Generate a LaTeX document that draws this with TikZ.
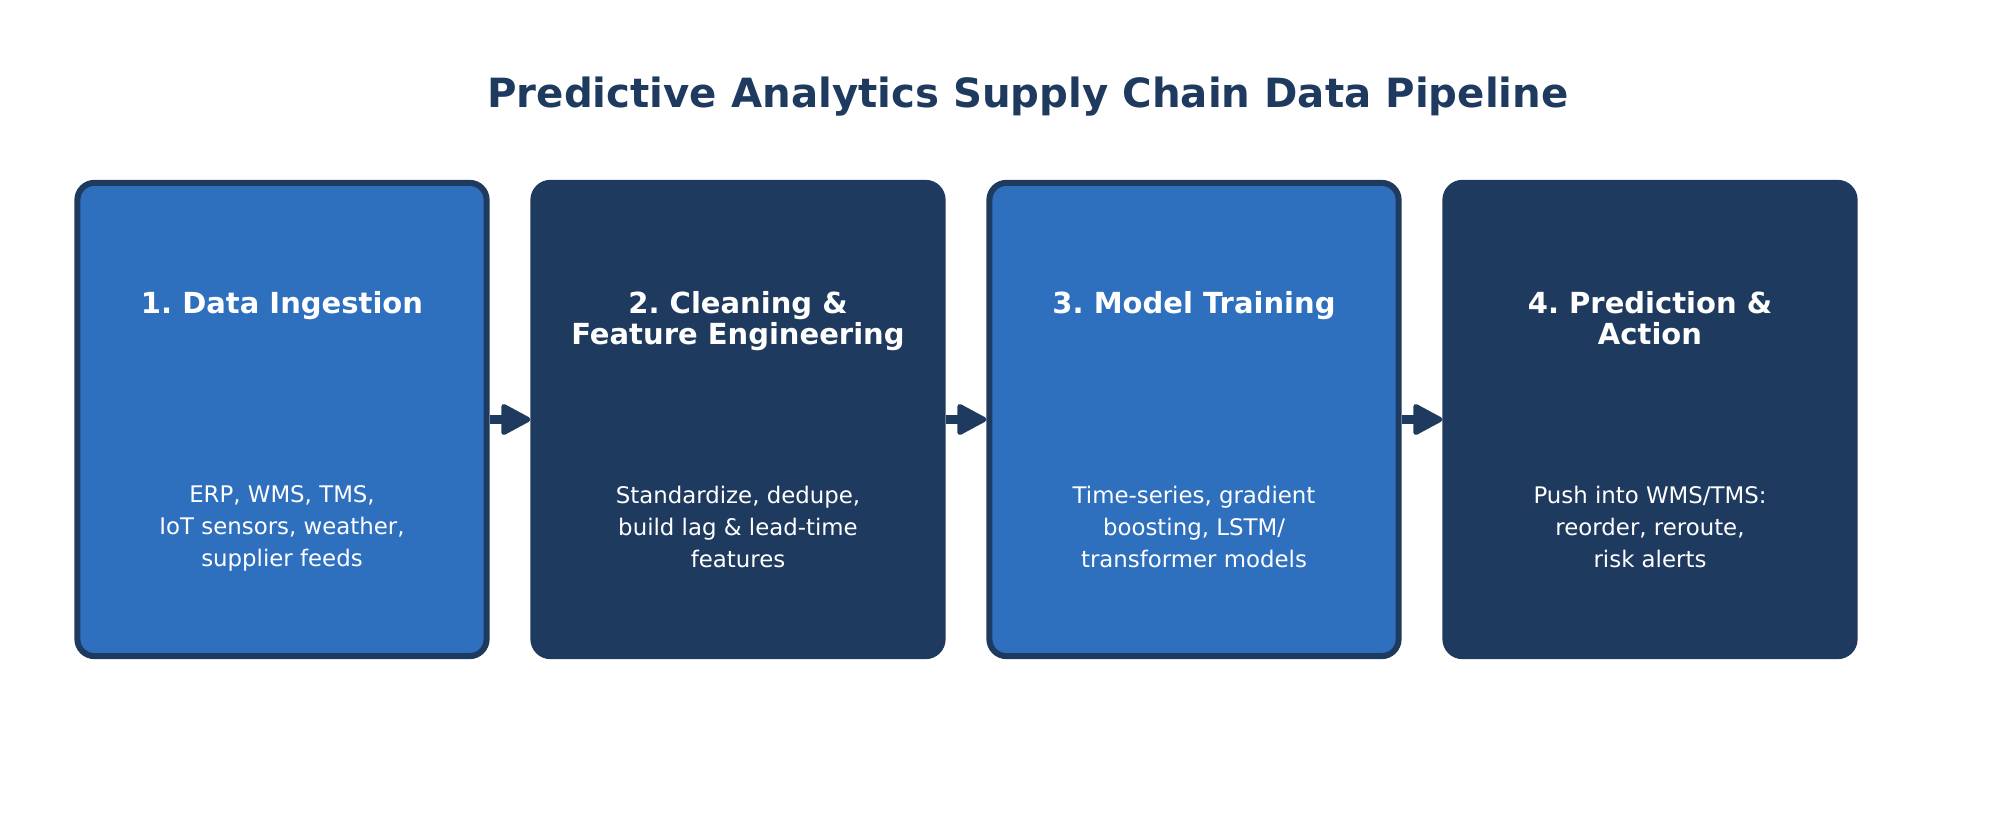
\documentclass[tikz,border=0pt]{standalone}
\usepackage{fontspec}
\setmainfont{DejaVu Sans}
\usetikzlibrary{arrows.meta}
\definecolor{stageblue}{HTML}{2E6FBE}
\definecolor{stagenavy}{HTML}{1F3A5F}
\frenchspacing

\begin{document}
\begin{tikzpicture}[x=0.01cm,y=-0.01cm]
		\tikzset{stage/.style={draw=stagenavy,line width=0.06cm,rounded corners=0.17cm,minimum width=4.09cm,minimum height=4.73cm,inner sep=0pt},
			light/.style={stage,fill=stageblue},
			dark/.style={stage,fill=stagenavy},
			head/.style={anchor=north,align=center,text=white,inner sep=0pt,font=\fontsize{8.25}{9}\selectfont\bfseries},
			body/.style={anchor=north,align=center,text=white,inner sep=0pt,font=\fontsize{6.5}{9.1}\selectfont},
			flow/.style={-{Triangle[length=0.32cm,width=0.33cm,round,line width=0.05cm]},line width=0.09cm,color=stagenavy}}
		\useasboundingbox (0,0) rectangle (2000,840);
		\node (T) at (1028,108) [anchor=base,inner sep=0pt,text=stagenavy,font=\fontsize{11.45}{13}\selectfont\bfseries] {Predictive Analytics Supply Chain Data Pipeline};
		% stages
		\node (B1) at (282,419.5) [light] {};
		\node (B2) at (738,419.5) [dark] {};
		\node (B3) at (1194,419.5) [light] {};
		\node (B4) at (1650,419.5) [dark] {};
		\node (H1) at (282,290.5) [head] {1. Data Ingestion};
		\node (H2) at (738,290.5) [head] {2. Cleaning \&\\Feature Engineering};
		\node (H3) at (1194,290.5) [head] {3. Model Training};
		\node (H4) at (1650,290.5) [head] {4. Prediction \&\\Action};
		\node (D1) at (282,485) [body] {ERP, WMS, TMS,\\IoT sensors, weather,\\supplier feeds};
		\node (D2) at (738,485) [body] {Standardize, dedupe,\\build lag \& lead-time\\features};
		\node (D3) at (1194,485) [body] {Time-series, gradient\\boosting, LSTM/\\transformer models};
		\node (D4) at (1650,485) [body] {Push into WMS/TMS:\\reorder, reroute,\\risk alerts};
		\path[flow] (B1) edge (B2)
		(B2) edge (B3)
		(B3) edge (B4);
	\end{tikzpicture}
\end{document}
